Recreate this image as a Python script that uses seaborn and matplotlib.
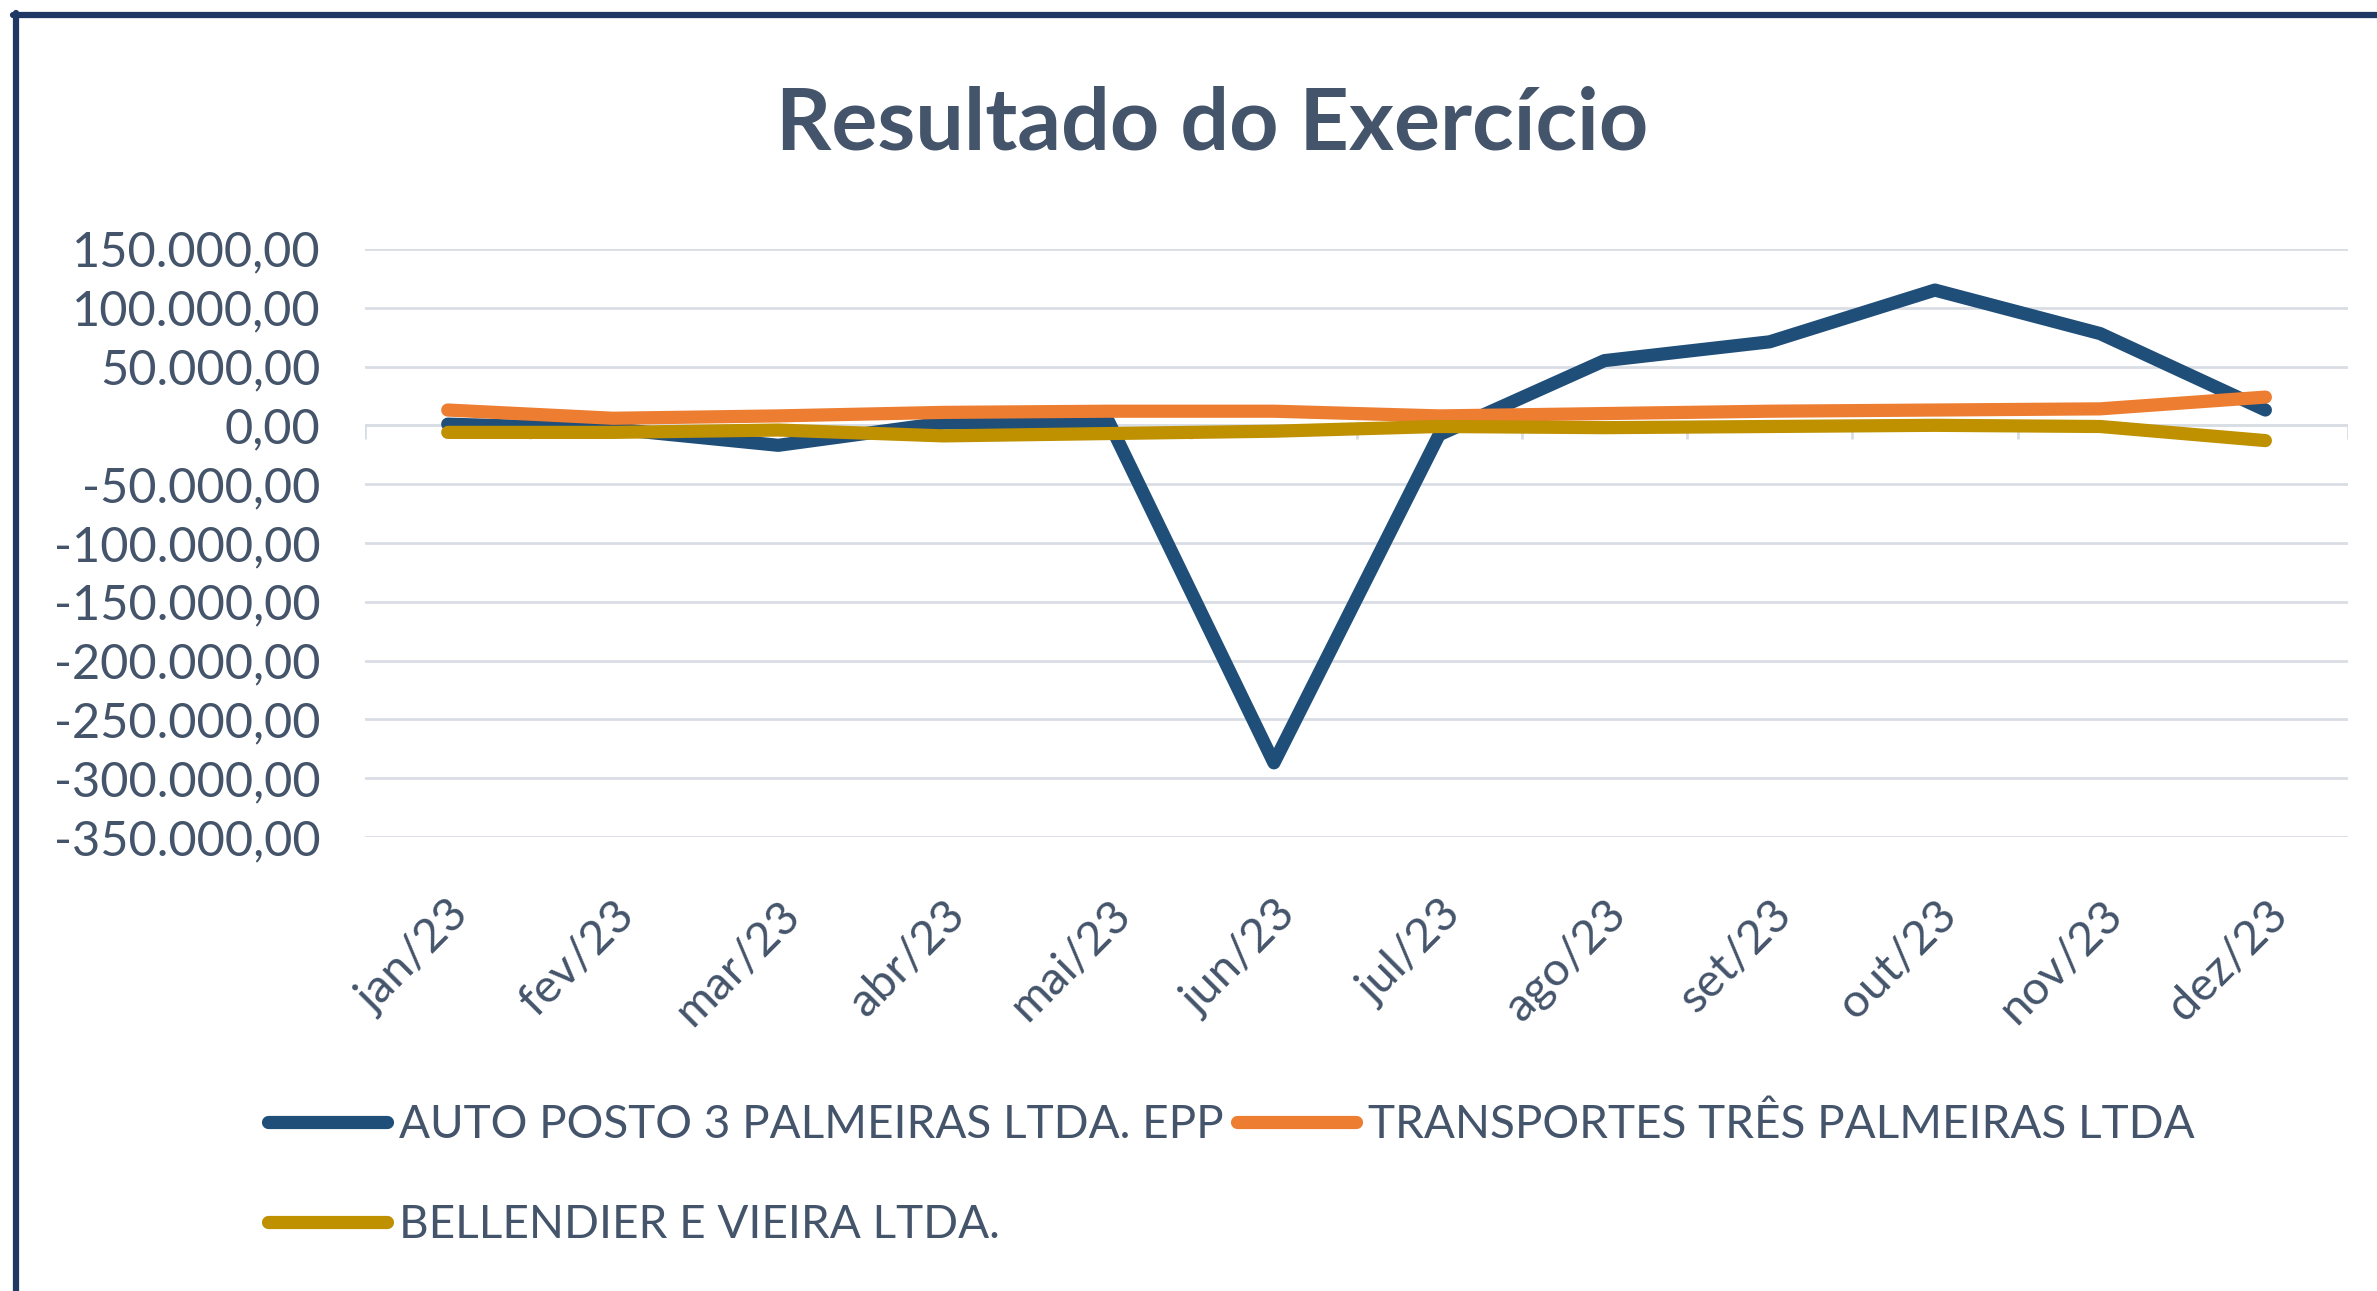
import pandas as pd
import matplotlib
matplotlib.use("Agg")
import matplotlib.pyplot as plt
from matplotlib.ticker import FuncFormatter, FixedLocator
from matplotlib.lines import Line2D
import seaborn as sns

months = ['jan/23', 'fev/23', 'mar/23', 'abr/23', 'mai/23', 'jun/23',
          'jul/23', 'ago/23', 'set/23', 'out/23', 'nov/23', 'dez/23']
auto_posto = [1000, -3000, -17000, 2000, 3000, -287000,
              -8000, 55000, 71000, 115000, 78000, 13000]
transportes = [13000, 6000, 8000, 11000, 12000, 12000,
               8000, 10000, 12000, 13000, 14000, 24000]
bellendier = [-6000, -6000, -4000, -9000, -7000, -5000,
              -1000, -2000, -1000, 0, -1000, -13000]

series_names = ['AUTO POSTO 3 PALMEIRAS LTDA. EPP',
                'TRANSPORTES TRÊS PALMEIRAS LTDA',
                'BELLENDIER E VIEIRA LTDA.']
colors = ['#1F4E79', '#ED7D31', '#BF9000']

df = pd.DataFrame({
    'Mes': months * 3,
    'Valor': auto_posto + transportes + bellendier,
    'Empresa': [series_names[0]] * 12 + [series_names[1]] * 12 + [series_names[2]] * 12,
})

sns.set_theme(style='white')
plt.rcParams['font.family'] = ['Lato', 'DejaVu Sans']
text_color = '#44546A'
grid_color = '#D9DDE4'

fig = plt.figure(figsize=(23.77, 12.91), dpi=100)
ax = fig.add_axes([0.1536, 0.3517, 0.8342, 0.4555])

sns.lineplot(data=df, x='Mes', y='Valor', hue='Empresa', palette=colors,
             hue_order=series_names, sort=False, linewidth=9.5, ax=ax,
             legend=False, zorder=3)
for ln in ax.lines:
    ln.set_solid_capstyle('round')
    ln.set_solid_joinstyle('round')

ax.set_xlim(-0.5, len(months) - 0.5)
ax.set_ylim(-350000, 150000)
ax.yaxis.set_major_locator(FixedLocator(range(-350000, 150001, 50000)))


def br_fmt(v, pos):
    s = f"{v:,.2f}"
    return s.replace(',', 'X').replace('.', ',').replace('X', '.')


ax.yaxis.set_major_formatter(FuncFormatter(br_fmt))
ax.grid(axis='y', color=grid_color, linewidth=2.0)
ax.grid(axis='x', visible=False)
for s in ax.spines.values():
    s.set_visible(False)

# category axis line crosses at zero, tick marks between categories
ax.axhline(0, color=grid_color, linewidth=2.0, zorder=1)
ax.vlines([i - 0.5 for i in range(len(months) + 1)], -12000, 0,
          color=grid_color, linewidth=2.0, zorder=1)

ax.tick_params(axis='y', length=0, pad=32, labelsize=35, labelcolor=text_color)
ax.tick_params(axis='x', length=0, pad=40, labelsize=34, labelcolor=text_color)
plt.setp(ax.get_xticklabels(), rotation=45, ha='right', rotation_mode='anchor')
ax.set_xlabel('')
ax.set_ylabel('')

fig.suptitle('Resultado do Exercício', x=0.51, y=0.934, fontsize=62,
             fontweight='bold', color=text_color)

# legend: row-major order via column fill
handles = [Line2D([0], [0], color=c, linewidth=9.5, solid_capstyle='round')
           for c in colors]
order = [0, 2, 1]
fig.legend([handles[i] for i in order], [series_names[i] for i in order],
           loc='upper left', bbox_to_anchor=(0.105, 0.1596),
           ncol=2, frameon=False, fontsize=33, labelcolor=text_color,
           handlelength=2.6, handletextpad=0.25, columnspacing=0.3,
           labelspacing=1.28, borderaxespad=0)

# chart border (top and left only)
fig.add_artist(Line2D([0.0055, 1.0], [1 - 15 / 1291] * 2, color='#1F3864',
                      linewidth=4.5, transform=fig.transFigure))
fig.add_artist(Line2D([16 / 2377] * 2, [0.0, 1 - 13 / 1291], color='#1F3864',
                      linewidth=4.5, transform=fig.transFigure))

fig.savefig('out.png', dpi=100, facecolor='white')
